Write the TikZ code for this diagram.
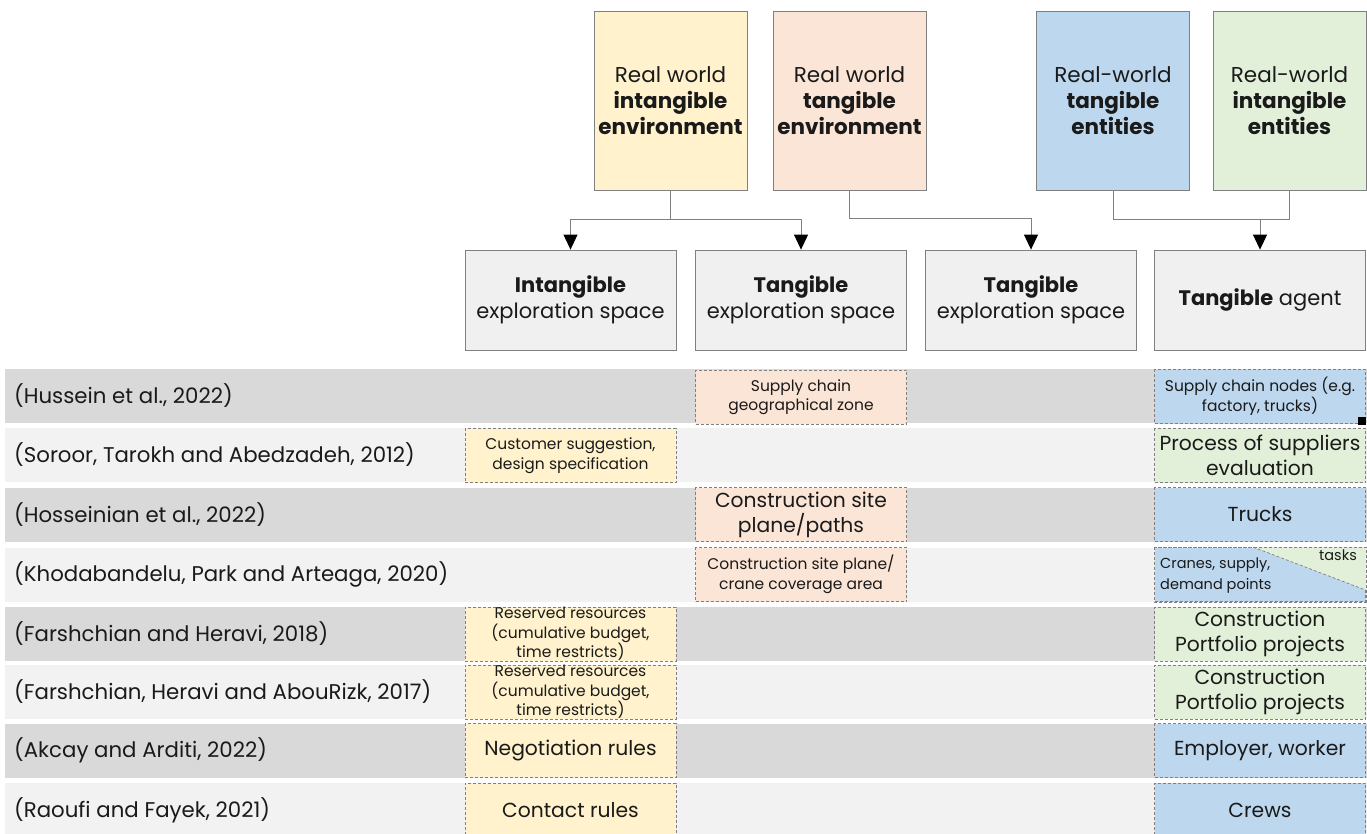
\documentclass[tikz,border=0pt]{standalone}
\usepackage{fontspec}
\setmainfont{Poppins}
\usetikzlibrary{arrows.meta,calc}
\definecolor{cyel}{HTML}{FFF2CC}
\definecolor{cpea}{HTML}{FBE5D6}
\definecolor{cblu}{HTML}{BDD7EE}
\definecolor{cgre}{HTML}{E2F0D9}
\definecolor{cbox}{HTML}{F0F0F0}
\definecolor{rdark}{HTML}{D9D9D9}
\definecolor{rlight}{HTML}{F2F2F2}
\definecolor{edge}{HTML}{808080}
\definecolor{txt}{HTML}{1A1A1A}
\newcommand{\fstop}{\fontsize{21.5}{26}\selectfont}
\newcommand{\fsmid}{\fontsize{21}{25.5}\selectfont}
\newcommand{\fslab}{\fontsize{21.3}{26}\selectfont}
\newcommand{\fsb}{\fontsize{15.5}{19.5}\selectfont}
\newcommand{\fsc}{\fontsize{20.3}{25}\selectfont}
\newcommand{\fsd}{\fontsize{14.5}{21}\selectfont}
\begin{document}
\begin{tikzpicture}[x=1pt,y=-1pt,
  every node/.style={text=txt},
  topbox/.style={draw=edge, line width=0.8pt, minimum width=153pt, minimum height=179pt, align=center, inner sep=0pt, font=\fstop},
  midbox/.style={draw=edge, line width=0.8pt, fill=cbox, minimum width=211pt, minimum height=100pt, align=center, inner sep=0pt, font=\fsmid},
  rowbar/.style={minimum width=1362pt, minimum height=54pt, inner sep=0pt, anchor=west},
  rowlab/.style={anchor=west, font=\fslab, inner sep=0pt},
  cell/.style={draw=edge, dashed, dash pattern=on 3pt off 2pt, line width=0.7pt, minimum width=211pt, minimum height=54pt, inner sep=0pt, align=center},
  small/.style={font=\fsb},
  big/.style={font=\fsc},
  conn/.style={draw=edge, line width=0.9pt},
  arr/.style={conn, -{Triangle[length=15pt,width=14pt,color=black]}}
]
\useasboundingbox (0,0) rectangle (1367,834);
% top boxes
\node[topbox, fill=cyel] (ye) at (670.5,100.5) {Real world\\\textbf{intangible}\\\textbf{environment}};
\node[topbox, fill=cpea] (pe) at (849.5,100.5) {Real world\\\textbf{tangible}\\\textbf{environment}};
\node[topbox, fill=cblu] (bl) at (1113,100.5) {Real-world\\\textbf{tangible}\\\textbf{entities}};
\node[topbox, fill=cgre] (gr) at (1289.5,100.5) {Real-world\\\textbf{intangible}\\\textbf{entities}};
% middle boxes
\node[midbox] (m1) at (570.5,300) {\textbf{Intangible}\\exploration space};
\node[midbox] (m2) at (801,300) {\textbf{Tangible}\\exploration space};
\node[midbox] (m3) at (1031,300) {\textbf{Tangible}\\exploration space};
\node[midbox] (m4) at (1260,300) {\textbf{Tangible} agent};
% connectors
\coordinate (j1) at (670.5,219);
\coordinate (j3) at (1260,219);
\draw[conn] (ye.south) -- (j1);
\draw[arr] (j1) -| (m1.north);
\draw[arr] (j1) -| (m2.north);
\draw[arr] (pe.south) |- ($(m3.north)+(0,-31)$) -- (m3.north);
\draw[conn] (bl.south) |- (j3);
\draw[conn] (gr.south) |- (j3);
\draw[arr] (j3) -- (m4.north);
% rows
\node[rowbar, fill=rdark]  (r1) at (5,396) {};
\node[rowbar, fill=rlight] (r2) at (5,455) {};
\node[rowbar, fill=rdark]  (r3) at (5,514.5) {};
\node[rowbar, fill=rlight] (r4) at (5,574.5) {};
\node[rowbar, fill=rdark]  (r5) at (5,634) {};
\node[rowbar, fill=rlight] (r6) at (5,692) {};
\node[rowbar, fill=rdark]  (r7) at (5,750.5) {};
\node[rowbar, fill=rlight] (r8) at (5,810) {};
\node[rowlab] (l1) at (14,396) {(Hussein et al., 2022)};
\node[rowlab] (l2) at (14,455) {(Soroor, Tarokh and Abedzadeh, 2012)};
\node[rowlab] (l3) at (14,514.5) {(Hosseinian et al., 2022)};
\node[rowlab] (l4) at (14,574.5) {(Khodabandelu, Park and Arteaga, 2020)};
\node[rowlab] (l5) at (14,634) {(Farshchian and Heravi, 2018)};
\node[rowlab] (l6) at (14,692) {(Farshchian, Heravi and AbouRizk, 2017)};
\node[rowlab] (l7) at (14,750.5) {(Akcay and Arditi, 2022)};
\node[rowlab] (l8) at (14,810) {(Raoufi and Fayek, 2021)};
% row 1
\node[cell, fill=cpea, small] (c1p) at (801,397) {Supply chain\\geographical zone};
\node[cell, fill=cblu, small] (c1a) at (1260,396.5) {Supply chain nodes (e.g.\\factory, trucks)};
\node[fill=black, minimum size=8pt, inner sep=0pt] (sq) at (1362,421) {};
% row 2
\node[cell, fill=cyel, small] (c2y) at (570.5,455.5) {Customer suggestion,\\design specification};
\node[cell, fill=cgre, big] (c2a) at (1260,455.5) {Process of suppliers\\evaluation};
% row 3
\node[cell, fill=cpea, big] (c3p) at (801,514.5) {Construction site\\plane/paths};
\node[cell, fill=cblu, big] (c3a) at (1260,514.5) {Trucks};
% row 4
\node[cell, fill=cpea, small] (c4p) at (801,574.5) {Construction site plane/\\crane coverage area};
\node[cell, fill=cblu] (c4a) at (1260,574.5) {};
\fill[cgre] ([xshift=99pt]c4a.north west) -- (c4a.north east) -- ([yshift=-43pt]c4a.north east) -- cycle;
\draw[edge, dashed, dash pattern=on 3pt off 2pt, line width=0.7pt] ([xshift=99pt]c4a.north west) -- ([yshift=-43pt]c4a.north east);
\draw[edge, dashed, dash pattern=on 3pt off 2pt, line width=0.7pt] (c4a.north west) rectangle (c4a.south east);
\node[font=\fsd, anchor=west, align=left, inner sep=0pt] (t4a) at (1160,576) {Cranes, supply,\\demand points};
\node[font=\fsd, anchor=north east, inner sep=0pt] (t4b) at (1357,550) {tasks};
% row 5
\node[cell, fill=cyel, small] (c5y) at (570.5,634) {Reserved resources\\(cumulative budget,\\time restricts)};
\node[cell, fill=cgre, big] (c5a) at (1260,634) {Construction\\Portfolio projects};
% row 6
\node[cell, fill=cyel, small] (c6y) at (570.5,692) {Reserved resources\\(cumulative budget,\\time restricts)};
\node[cell, fill=cgre, big] (c6a) at (1260,692) {Construction\\Portfolio projects};
% row 7
\node[cell, fill=cyel, big] (c7y) at (570.5,750.5) {Negotiation rules};
\node[cell, fill=cblu, big] (c7a) at (1260,750.5) {Employer, worker};
% row 8
\node[cell, fill=cyel, big] (c8y) at (570.5,810) {Contact rules};
\node[cell, fill=cblu, big] (c8a) at (1260,810) {Crews};
\end{tikzpicture}
\end{document}
